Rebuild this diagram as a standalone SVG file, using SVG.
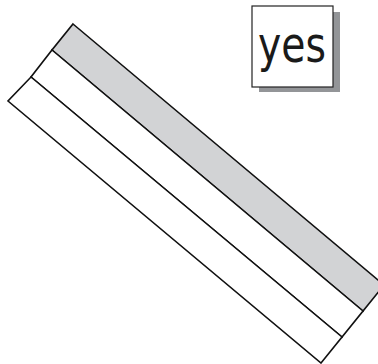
<svg xmlns="http://www.w3.org/2000/svg" width="378" height="364" viewBox="0 0 378 364">
<style>
.s{stroke:#111;stroke-width:1.6;stroke-linejoin:miter}
</style>
<rect width="378" height="364" fill="#fff"/>
<g id="strips">
<polygon class="s" points="73,24 384,285 363,311 52,50" fill="#d2d3d5"/>
<polygon class="s" points="52,50 363,311 342,337 31,77" fill="#fff"/>
<polygon class="s" points="31,77 342,337 321,363 8,101" fill="#fff"/>
</g>
<g id="yes">
<rect x="259" y="12" width="81" height="80" fill="#939598"/>
<rect x="252" y="6" width="81" height="81" fill="#fff" stroke="#222" stroke-width="1.2"/>
<text x="292" y="62" font-family="DejaVu Sans, sans-serif" font-size="50" text-anchor="middle" textLength="68" lengthAdjust="spacingAndGlyphs" fill="#1a1a1a">yes</text>
</g>
</svg>
